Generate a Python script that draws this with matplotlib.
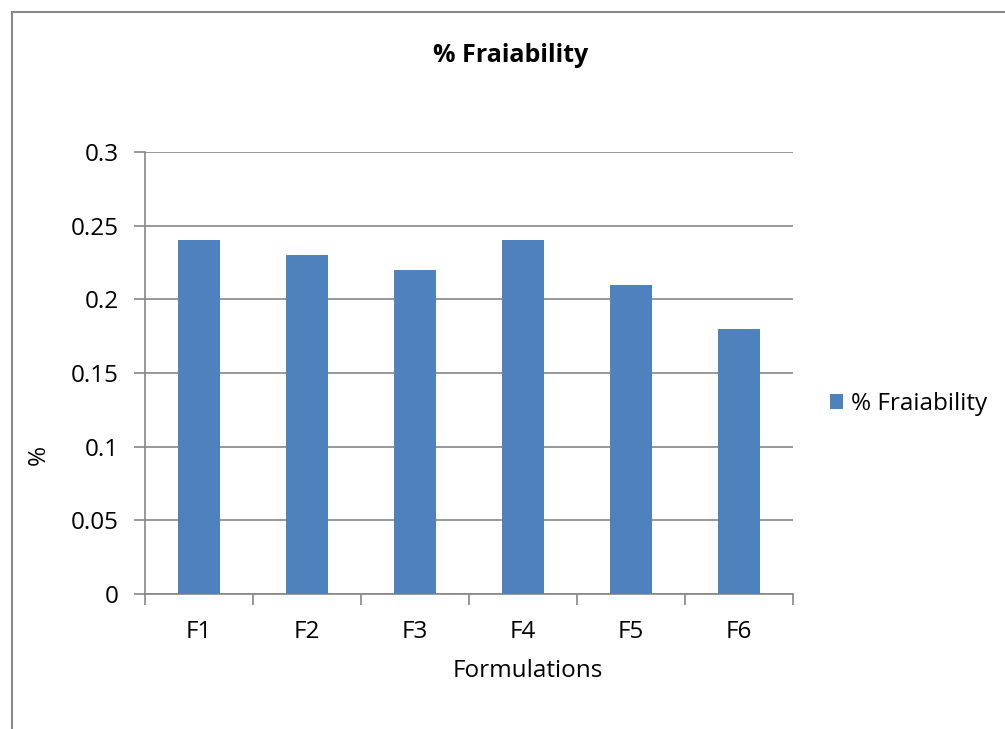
import matplotlib
matplotlib.use("Agg")
import matplotlib.pyplot as plt
from matplotlib.patches import Rectangle
import numpy as np

categories = ["F1", "F2", "F3", "F4", "F5", "F6"]
values = [0.24, 0.23, 0.22, 0.24, 0.21, 0.18]
series_name = "% Fraiability"
title = "% Fraiability"
xlabel = "Formulations"
ylabel = "%"
yticks = [0, 0.05, 0.1, 0.15, 0.2, 0.25, 0.3]
ytick_labels = ["0", "0.05", "0.1", "0.15", "0.2", "0.25", "0.3"]

plt.rcParams['font.family'] = ['Open Sans', 'DejaVu Sans']

W, H = 1005, 729
FS = 17.5
fig = plt.figure(figsize=(W / 100, H / 100), dpi=100)

# outer chart frame
fig.patches.append(Rectangle((12 / W, -0.05), 1.1, 1 - 12 / H + 0.05,
                             transform=fig.transFigure, fill=False,
                             edgecolor="#8a8a8a", linewidth=1.5))

ax = fig.add_axes([145 / W, 1 - 594 / H, 648 / W, 442 / H])
x = np.arange(len(categories))
ax.bar(x, values, width=0.38, color="#4F81BD", label=series_name, zorder=3)

ax.set_xlim(-0.5, len(categories) - 0.5)
ax.set_ylim(0, 0.3)
ax.set_yticks(yticks)
ax.set_yticklabels(ytick_labels, fontsize=FS)
ax.yaxis.grid(True, color="#868686", linewidth=1.2, zorder=0)

ax.set_xticks(np.arange(-0.5, len(categories), 1.0))
ax.set_xticklabels([])
ax.set_xticks(x, minor=True)
ax.set_xticklabels(categories, minor=True, fontsize=FS)
ax.tick_params(axis='x', which='major', length=8, color="#868686", width=1.2)
ax.tick_params(axis='x', which='minor', length=0, pad=19)
ax.tick_params(axis='y', length=8, color="#868686", width=1.2, pad=11)

for s in ["top", "right"]:
    ax.spines[s].set_visible(False)
for s in ["left", "bottom"]:
    ax.spines[s].set_color("#868686")
    ax.spines[s].set_linewidth(1.2)

ax.set_xlabel(xlabel, fontsize=FS)
ax.xaxis.set_label_coords((528 - 145) / 648, (594 - 659) / 442)
ax.set_ylabel(ylabel, fontsize=FS)
ax.yaxis.set_label_coords((51 - 145) / 648, (594 - 455) / 442)

fig.text(511 / W, 1 - 55 / H, title, ha="center", va="center",
         fontsize=18, fontweight="bold")

ax.legend(loc="center left", bbox_to_anchor=(830 / W, 1 - 404 / H),
          bbox_transform=fig.transFigure, frameon=False, fontsize=FS,
          handlelength=0.55, handleheight=0.55, handletextpad=0.3,
          borderaxespad=0, borderpad=0)

fig.savefig("out.png", dpi=100)
